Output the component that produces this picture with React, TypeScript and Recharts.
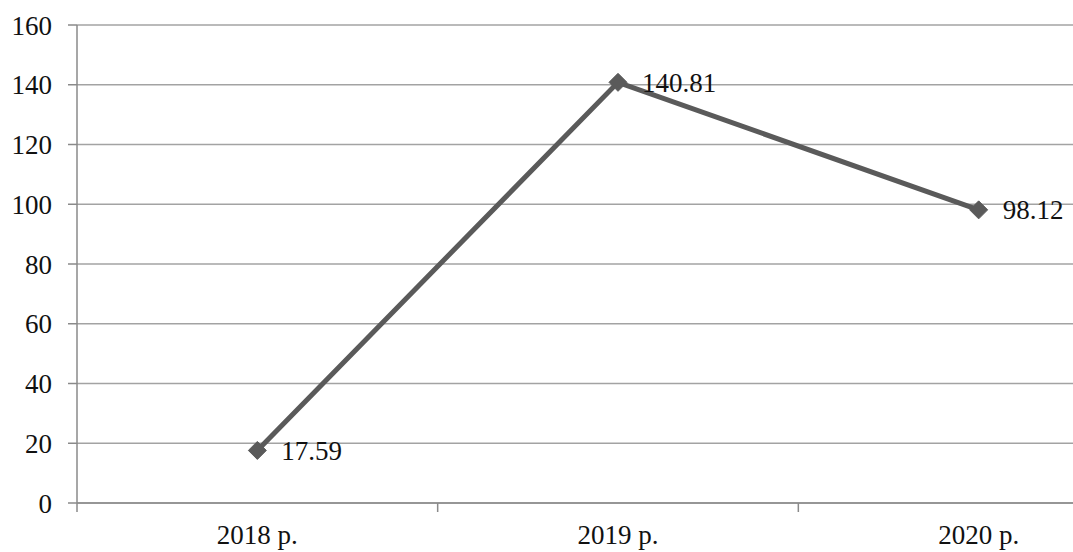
import { CartesianGrid, LabelList, Line, LineChart, XAxis, YAxis } from "recharts";

const years = ["2018 р.", "2019 р.", "2020 р."];
const values = [17.59, 140.81, 98.12];
const yTicks = [0, 20, 40, 60, 80, 100, 120, 140, 160];

const data = years.map((year, i) => ({ year, value: values[i] }));

const FONT = "'Times New Roman', 'Liberation Serif', 'DejaVu Serif', serif";
const AXIS_GRAY = "#8a8a8a";
const LINE_GRAY = "#5a5a5a";

function Diamond(props: any) {
  const { cx, cy } = props;
  if (cx == null || cy == null) return null;
  const r = 9;
  return (
    <polygon
      points={`${cx},${cy - r} ${cx + r},${cy} ${cx},${cy + r} ${cx - r},${cy}`}
      fill={LINE_GRAY}
      stroke={LINE_GRAY}
      strokeWidth={1}
    />
  );
}

// category label under the band, with a tick mark at the band's left edge
function YearTick(props: any) {
  const { x, y, payload } = props;
  const half = payload?.offset ?? 0;
  return (
    <g>
      <line x1={x - half} y1={y - 8} x2={x - half} y2={y + 1} stroke={AXIS_GRAY} strokeWidth={1.5} />
      <text x={x} y={y + 33} textAnchor="middle" fontSize={27} style={{ fontFamily: FONT }} fill="#111">
        {payload.value}
      </text>
    </g>
  );
}

export default function App() {
  return (
    <div
      style={{
        position: "fixed",
        left: 0,
        top: 0,
        width: 1073,
        height: 552,
        overflow: "hidden",
        background: "#fff",
        fontFamily: FONT,
      }}
    >
      <LineChart width={1159} height={552} data={data} margin={{ top: 25, right: 0, bottom: 0, left: 0 }}>
        <CartesianGrid vertical={false} stroke="#a3a3a3" strokeWidth={1.5} />
        <XAxis
          dataKey="year"
          scale="band"
          tickLine={false}
          tick={<YearTick />}
          stroke={AXIS_GRAY}
          strokeWidth={1.5}
          height={49}
        />
        <YAxis
          domain={[0, 160]}
          ticks={yTicks}
          width={77}
          tickSize={9}
          tickMargin={16}
          stroke={AXIS_GRAY}
          strokeWidth={1.5}
          tick={{ fontSize: 27, fontFamily: FONT, fill: "#111" }}
        />
        <Line
          dataKey="value"
          stroke={LINE_GRAY}
          strokeWidth={5}
          dot={<Diamond />}
          activeDot={false}
          isAnimationActive={false}
        >
          <LabelList dataKey="value" position="right" offset={24} fontSize={27} fontFamily={FONT} fill="#111" />
        </Line>
      </LineChart>
    </div>
  );
}
